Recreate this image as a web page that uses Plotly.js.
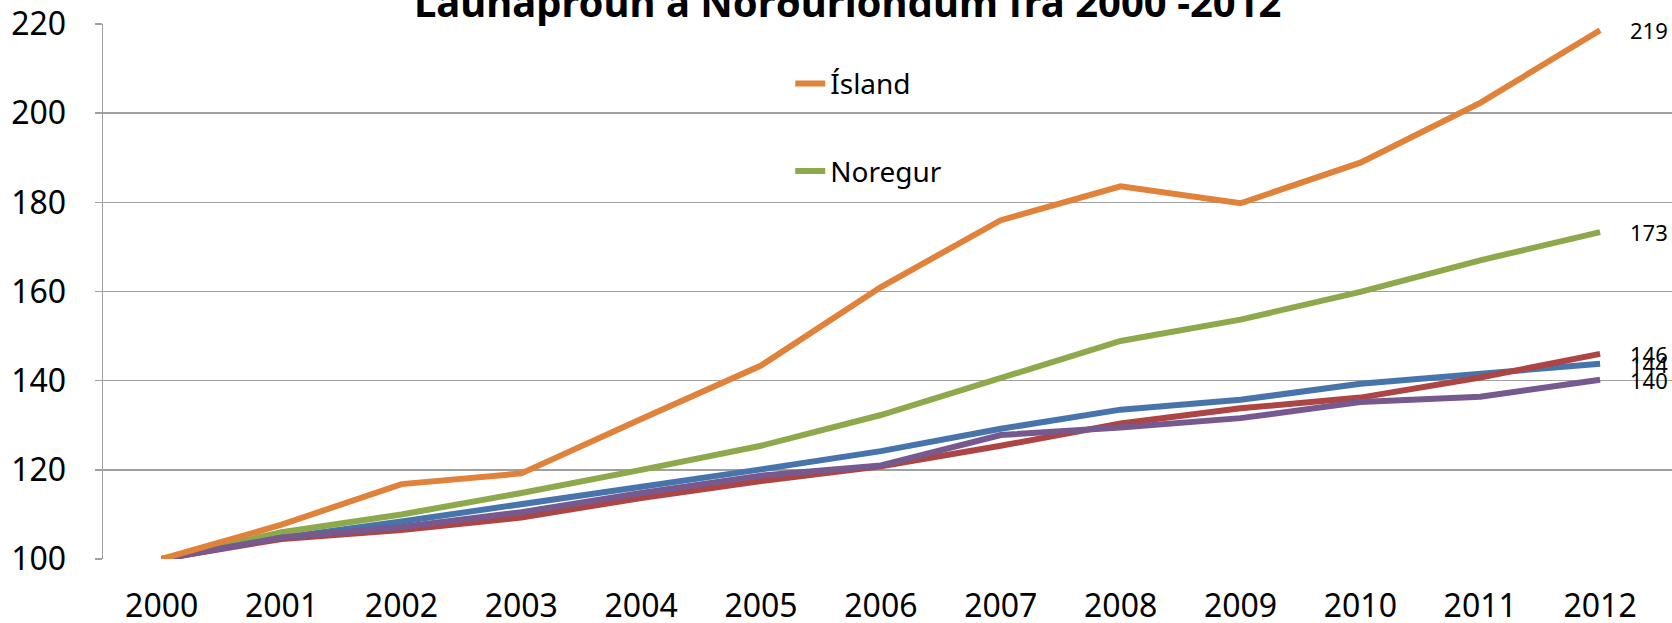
<!DOCTYPE html>
<html>
<head>
<meta charset="utf-8">
<script src="https://cdn.plot.ly/plotly-3.0.1.min.js"></script>
<style>html,body{margin:0;padding:0;background:#fff;}#chart{width:1672px;height:623px;}</style>
</head>
<body>
<div id="chart"></div>
<script>
var years = ["2000","2001","2002","2003","2004","2005","2006","2007","2008","2009","2010","2011","2012"];
var danmork   = [100,104.8,108.4,112.2,116.0,120.1,124.2,129.2,133.5,135.7,139.3,141.7,143.8];
var finnland  = [100,104.5,106.5,109.3,113.7,117.5,120.8,125.4,130.4,133.8,136.2,140.7,146.0];
var noregur   = [100,106.0,110.0,114.8,120.0,125.4,132.3,140.5,148.9,153.7,159.9,167.0,173.3];
var svithjod  = [100,104.8,107.2,110.5,114.8,118.7,121.0,127.8,129.5,131.6,135.2,136.4,140.2];
var island    = [100,107.7,116.8,119.2,131.4,143.4,161.0,176.0,183.6,179.8,188.9,202.3,218.6];
var yTicks = [100,120,140,160,180,200,220];
var titleText = "Launaþróun á Norðurlöndum frá 2000 -2012";

var series = [
  {name:"Danmörk", y:danmork, color:"#4674AB", legend:false},
  {name:"Finnland", y:finnland, color:"#AD4545", legend:false},
  {name:"Noregur", y:noregur, color:"#8DA94B", legend:true, rank:2},
  {name:"Svíþjóð", y:svithjod, color:"#76598F", legend:false},
  {name:"Ísland", y:island, color:"#E0823A", legend:true, rank:1}
];

var font = "Noto Sans, Open Sans, sans-serif";
var traces = series.map(function(s){
  return {
    type:"scatter", mode:"lines", x:years, y:s.y, name:s.name,
    line:{color:s.color, width:6},
    showlegend:s.legend, legendgroup:s.name, legendrank:s.rank||1000,
    hoverinfo:"skip"
  };
});

var annotations = series.map(function(s){
  var lastIdx = s.y.length-1;
  var last = s.y[lastIdx];
  return {
    x: lastIdx, y: last, xref:"x", yref:"y",
    text: String(Math.round(last)), showarrow:false,
    xanchor:"left", yanchor:"middle", xshift:28,
    font:{family:font, size:22, color:"#000"}
  };
});

var layout = {
  width:1672, height:623,
  margin:{l:103, r:0, t:24, b:64},
  paper_bgcolor:"#fff", plot_bgcolor:"#fff",
  title:{text:"<b>"+titleText+"</b>", x:0.507, xanchor:"center", y:1-17/623, yref:"container", yanchor:"bottom",
         font:{family:font, size:40, color:"#000"}},
  xaxis:{type:"category", range:[-0.49,12.6], showgrid:false, zeroline:false,
         showline:false, ticks:"", tickfont:{family:font, size:32, color:"#000"},
         ticklabelstandoff:25},
  yaxis:{range:[100,220], tickvals:yTicks, showgrid:true, gridcolor:"#A0A0A0", gridwidth:1.5,
         showline:true, linecolor:"#A0A0A0", linewidth:1.5, ticks:"outside", ticklen:7,
         tickcolor:"#A0A0A0", tickwidth:1.5, zeroline:false,
         tickfont:{family:font, size:32, color:"#000"}, ticklabelstandoff:22},
  legend:{x:0.438, y:0.935, xanchor:"left", yanchor:"top", bgcolor:"rgba(0,0,0,0)",
          font:{family:font, size:28, color:"#000"}, traceorder:"grouped", tracegroupgap:48},
  annotations:annotations,
  showlegend:true
};

Plotly.newPlot("chart", traces, layout, {displayModeBar:false, staticPlot:true});
</script>
</body>
</html>
